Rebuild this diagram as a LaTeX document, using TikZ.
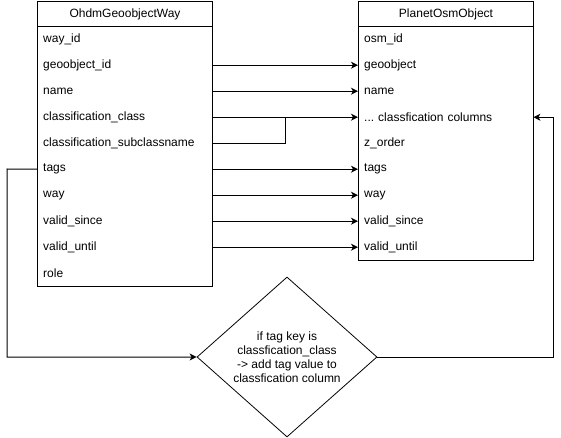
\documentclass[tikz,border=0pt]{standalone}
\usepackage{fontspec}
\setmainfont{Liberation Sans}
\usetikzlibrary{shapes.geometric,arrows.meta}
\frenchspacing
\begin{document}
\begin{tikzpicture}[x=1pt,y=-1pt,
  font=\fontsize{12}{14}\selectfont,
  box/.style={draw,line width=1pt,minimum width=175pt,anchor=north west,inner sep=0pt},
  head/.style={draw,line width=1pt,minimum width=175pt,minimum height=25pt,anchor=north west,inner sep=0pt},
  row/.style={minimum height=26pt,inner xsep=6pt,inner ysep=0pt,text width=163pt,align=left,anchor=north west},
  conn/.style={line width=1pt},
  arr/.style={line width=1pt,-{Stealth[length=7pt,width=7pt,inset=2pt]}},
  dia/.style={draw,diamond,line width=0.8pt,minimum width=180pt,minimum height=160pt,inner sep=0pt}]
\useasboundingbox (0,0) rectangle (561,438);
% left table
\node[box,minimum height=285pt] (L) at (37,1) {};
\node[head] (Lh) at (37,1) {OhdmGeoobjectWay};
\node[row] (l1) at (37,26) {way\_id};
\node[row] (l2) at (37,52) {geoobject\_id};
\node[row] (l3) at (37,78) {name};
\node[row] (l4) at (37,104) {classification\_class};
\node[row] (l5) at (37,130) {classification\_subclassname};
\node[row] (l6) at (37,156) {tags};
\node[row] (l7) at (37,182) {way};
\node[row] (l8) at (37,208) {valid\_since};
\node[row] (l9) at (37,234) {valid\_until};
\node[row] (l10) at (37,260) {role};
% right table
\node[box,minimum height=259pt] (R) at (358,1) {};
\node[head] (Rh) at (358,1) {PlanetOsmObject};
\node[row] (r1) at (358,26) {osm\_id};
\node[row] (r2) at (358,52) {geoobject};
\node[row] (r3) at (358,78) {name};
\node[row] (r4) at (358,104) {... classfication columns};
\node[row] (r5) at (358,130) {z\_order};
\node[row] (r6) at (358,156) {tags};
\node[row] (r7) at (358,182) {way};
\node[row] (r8) at (358,208) {valid\_since};
\node[row] (r9) at (358,234) {valid\_until};
% diamond
\node[dia] (D) at (287,357) {};
\node[align=center,inner sep=0pt] (Dt) at (D.center) {if tag key is\\classfication\_class\\-> add tag value to\\classfication column};
% connectors
\draw[arr] (l2.east) -- (r2.west);
\draw[arr] (l3.east) -- (r3.west);
\draw[arr] (l4.east) -- (r4.west);
\coordinate (j) at (285,117);
\draw[conn] (l5.east) -| (j);
\draw[arr] (l6.east) -- (r6.west);
\draw[arr] (l7.east) -- (r7.west);
\draw[arr] (l8.east) -- (r8.west);
\draw[arr] (l9.east) -- (r9.west);
\coordinate (a) at (7,169);
\draw[arr] (l6.west) -- (a) |- (D.west);
\coordinate (k) at (553,357);
\draw[arr] (D.east) -- (k) |- (r4.east);
\end{tikzpicture}
\end{document}
